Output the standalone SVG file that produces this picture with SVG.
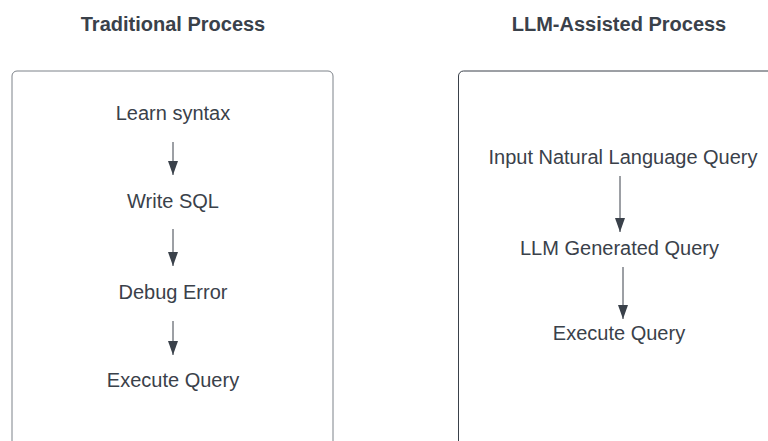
<svg xmlns="http://www.w3.org/2000/svg" width="768" height="441" viewBox="0 0 768 441">
<style>
.title{font-family:"Liberation Sans",Arial,sans-serif;font-size:20px;font-weight:bold;fill:#3a414a;text-anchor:middle}
.lbl{font-family:"Liberation Sans",Arial,sans-serif;font-size:20px;fill:#3a414a;text-anchor:middle}
.box{fill:#ffffff;stroke:#3a414a;stroke-width:1}
.conn{stroke:#3a414a;stroke-width:1;fill:none;marker-end:url(#ah)}
</style>
<defs>
<marker id="ah" markerUnits="userSpaceOnUse" viewBox="0 0 14 10" refX="14" refY="5" markerWidth="14" markerHeight="10" orient="auto">
<path d="M0,0 L14,5 L0,10 Z" fill="#3a414a"/>
</marker>
</defs>
<rect width="768" height="441" fill="#ffffff"/>
<g id="title-traditional"><text class="title" x="173" y="30.5">Traditional Process</text></g>
<g id="title-llm"><text class="title" x="619" y="30.5">LLM-Assisted Process</text></g>
<g id="box-traditional"><rect class="box" x="12" y="71" width="321" height="400" rx="5" style="stroke:#7d8289"/></g>
<g id="box-llm"><rect class="box" x="458.5" y="71" width="340" height="400" rx="5"/></g>
<g id="n-learn"><text class="lbl" x="173" y="120">Learn syntax</text></g>
<g id="n-write"><text class="lbl" x="173" y="208">Write SQL</text></g>
<g id="n-debug"><text class="lbl" x="173" y="298.5">Debug Error</text></g>
<g id="n-exec1"><text class="lbl" x="173" y="387">Execute Query</text></g>
<g id="n-input"><text class="lbl" x="623" y="164">Input Natural Language Query</text></g>
<g id="n-llmgen"><text class="lbl" x="619.5" y="254.5">LLM Generated Query</text></g>
<g id="n-exec2"><text class="lbl" x="619" y="340">Execute Query</text></g>
<g id="connectors">
<line class="conn" x1="173" y1="142" x2="173" y2="175"/>
<line class="conn" x1="173" y1="229" x2="173" y2="266"/>
<line class="conn" x1="173" y1="321" x2="173" y2="355"/>
<line class="conn" x1="620" y1="176" x2="620" y2="232"/>
<line class="conn" x1="623" y1="267" x2="623" y2="319"/>
</g>
</svg>
